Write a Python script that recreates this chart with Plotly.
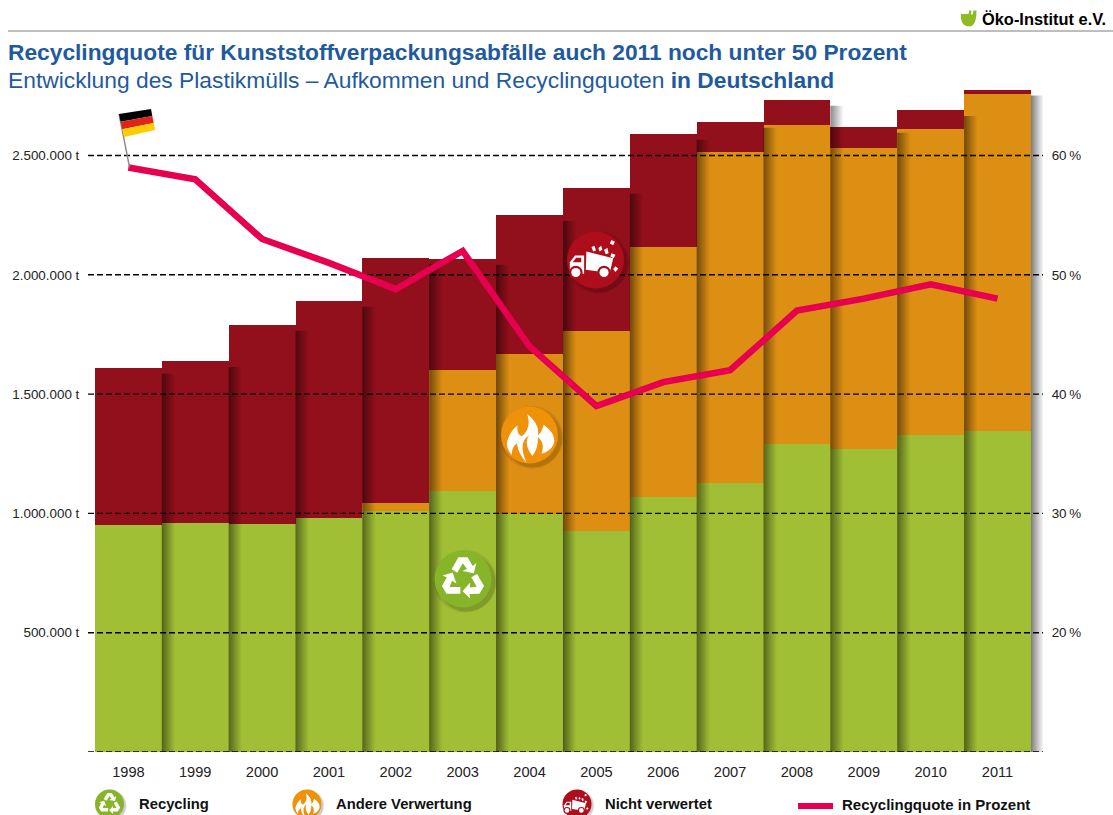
import math
import plotly.graph_objects as go

years = [1998, 1999, 2000, 2001, 2002, 2003, 2004, 2005, 2006, 2007, 2008, 2009, 2010, 2011]
recycling = [951000, 960000, 955000, 980000, 1010000, 1094000, 997000, 926000, 1068000, 1127000, 1291000, 1270000, 1328000, 1345000]
andere = [0, 0, 0, 0, 33000, 506000, 671000, 838000, 1048000, 1387000, 1337000, 1261000, 1283000, 1412000]
nicht = [658000, 678000, 835000, 910000, 1027000, 466000, 582000, 600000, 474000, 126000, 104000, 88000, 79000, 18000]
quote = [59, 58, 53, 51, 48.8, 52, 44, 39, 41, 42, 47, 48, 49.2, 48]
left_ticks = [500000, 1000000, 1500000, 2000000, 2500000]
left_labels = ["500.000 t", "1.000.000 t", "1.500.000 t", "2.000.000 t", "2.500.000 t"]
right_ticks = [20, 30, 40, 50, 60]
right_labels = ["20\u2009%", "30\u2009%", "40\u2009%", "50\u2009%", "60\u2009%"]
grid_levels = [0] + left_ticks

GREEN, ORANGE, RED, PINK = "#A0BF35", "#DD8F14", "#92101C", "#E6004F"
BLUE = "#1F5A9E"
FONT = "Liberation Sans"

L, R, T, B = 88, 1043, 88, 752
W, H = R - L, B - T
XR = [1997.396, 2011.68]
px_per_year = W / (XR[1] - XR[0])


def P(x, y):
    return (x - L) / W, (B - y) / H


def path_from(cmds, cx, cy, r, rot=0.0):
    out = []
    c, s = math.cos(rot), math.sin(rot)
    for cmd in cmds:
        letter, pts = cmd[0], cmd[1:]
        part = [letter]
        for (u, v) in pts:
            a, b = P(cx + r * (u * c - v * s), cy + r * (u * s + v * c))
            part.append(f"{a:.5f},{b:.5f}")
        out.append(" ".join(part))
    return " ".join(out) + " Z"


def poly(points):
    return [("M", points[0])] + [("L", p) for p in points[1:]]


def shape_path(cmds, cx, cy, r, color, rot=0.0):
    return dict(type="path", xref="paper", yref="paper", layer="above",
                path=path_from(cmds, cx, cy, r, rot), fillcolor=color, line=dict(width=0))


def circle(cx, cy, r, color):
    x0, y0 = P(cx - r, cy + r)
    x1, y1 = P(cx + r, cy - r)
    return dict(type="circle", xref="paper", yref="paper", layer="above",
                x0=x0, x1=x1, y0=y0, y1=y1, fillcolor=color, line=dict(width=0))


ARROW = poly([(-0.40, -0.34), (-0.16, -0.76), (0.16, -0.76), (0.34, -0.46), (0.47, -0.56),
              (0.38, -0.20), (-0.02, -0.28), (0.14, -0.36), (-0.01, -0.55), (-0.20, -0.22)])
FLAME = [("M", (-0.80, 0.30)), ("Q", (-0.72, -0.10), (-0.42, -0.34)), ("Q", (-0.46, -0.02), (-0.26, 0.04)),
         ("Q", (0.08, -0.25), (-0.08, -0.74)), ("Q", (0.36, -0.40), (0.30, 0.02)), ("Q", (0.44, -0.12), (0.50, -0.36)),
         ("Q", (0.98, 0.00), (0.84, 0.34)), ("Q", (0.72, 0.58), (0.42, 0.66)), ("Q", (0.56, 0.30), (0.30, 0.08)),
         ("Q", (0.30, 0.50), (0.10, 0.74)), ("Q", (-0.22, 0.30), (-0.02, 0.02)), ("Q", (-0.42, 0.26), (-0.10, 0.98)),
         ("Q", (-0.40, 0.66), (-0.44, 0.30)), ("Q", (-0.62, 0.40), (-0.62, 0.70)), ("Q", (-0.80, 0.50), (-0.80, 0.30))]
TRUCK = [
    poly([(-0.90, 0.48), (-0.90, 0.08), (-0.72, -0.16), (-0.40, -0.16), (-0.40, 0.48)]),
    poly([(-0.32, -0.30), (0.62, -0.06), (0.50, 0.46), (-0.34, 0.34)]),
    poly([(0.10, -0.42), (0.20, -0.50), (0.24, -0.36), (0.14, -0.30)]),
    poly([(0.30, -0.36), (0.42, -0.42), (0.46, -0.24), (0.36, -0.20)]),
    poly([(0.56, -0.70), (0.68, -0.64), (0.62, -0.52), (0.50, -0.58)]),
    poly([(0.56, -0.24), (0.70, -0.18), (0.64, -0.06), (0.52, -0.12)]),
    poly([(0.70, 0.22), (0.80, 0.30), (0.70, 0.42), (0.62, 0.32)]),
    poly([(-0.14, -0.46), (-0.04, -0.50), (0.02, -0.34), (-0.08, -0.30)]),
]
CAB_WINDOW = poly([(-0.80, 0.08), (-0.68, -0.08), (-0.50, -0.08), (-0.50, 0.08)])
LEAF = [("M", (-0.95, -0.55)), ("Q", (-1.05, 1.0), (0.15, 1.0)), ("Q", (1.0, 0.9), (1.0, -1.0)), ("L", (0.62, -1.0)),
        ("L", (0.52, -0.5)), ("L", (0.30, -0.5)), ("L", (0.36, -1.0)), ("L", (0.10, -1.0)), ("L", (0.0, -0.55)),
        ("L", (-0.95, -0.55))]


def disc(cx, cy, r, color):
    return [circle(cx + r * 0.08, cy + r * 0.08, r * 1.10, "rgba(0,0,0,0.08)"),
            circle(cx + r * 0.12, cy + r * 0.12, r * 1.02, "rgba(0,0,0,0.12)"),
            circle(cx, cy, r, color)]


def recycle_icon(cx, cy, r):
    return disc(cx, cy, r, "#87B52A") + [shape_path(ARROW, cx, cy, r, "white", rot=2 * math.pi * k / 3) for k in range(3)]


def flame_icon(cx, cy, r):
    return disc(cx, cy, r, "#EF9109") + [shape_path(FLAME, cx, cy, r, "white")]


def truck_icon(cx, cy, r):
    out = disc(cx, cy, r, "#AE0D1C")
    out += [shape_path(p, cx, cy, r, "white") for p in TRUCK]
    out.append(shape_path(CAB_WINDOW, cx, cy, r, "#AE0D1C"))
    for u in (-0.69, 0.30):
        out.append(circle(cx + r * u, cy + r * 0.44, r * 0.24, "#AE0D1C"))
        out.append(circle(cx + r * u, cy + r * 0.44, r * 0.16, "white"))
    return out


fig = go.Figure()
fig.add_bar(x=years, y=recycling, name="Recycling", marker=dict(color=GREEN, line=dict(width=0)))
fig.add_bar(x=years, y=andere, name="Andere Verwertung", marker=dict(color=ORANGE, line=dict(width=0)))
fig.add_bar(x=years, y=nicht, name="Nicht verwertet", marker=dict(color=RED, line=dict(width=0)))

# soft cast shadow right of each column, derived from the column totals
totals = [a + b + c for a, b, c in zip(recycling, andere, nicht)]
STEPS = 13
for k in range(STEPS):
    alpha = 0.50 * (1 - k / STEPS) ** 1.15
    xs, ys = [], []
    for yr, tot in zip(years, totals):
        x0 = yr + 0.5 + k * 1.0 / px_per_year
        x1 = yr + 0.5 + (k + 1) * 1.0 / px_per_year
        top = tot - 24000
        xs += [x0, x1, x1, x0, x0, None]
        ys += [0, 0, top, top, 0, None]
    fig.add_scatter(x=xs, y=ys, mode="none", fill="toself", fillcolor=f"rgba(0,0,0,{alpha:.3f})",
                    showlegend=False, hoverinfo="skip")

for lvl in grid_levels:
    fig.add_scatter(x=XR, y=[lvl, lvl], mode="lines", line=dict(color="black", width=1.4, dash="6px,3px"),
                    cliponaxis=False, showlegend=False, hoverinfo="skip")

fig.add_scatter(x=years, y=quote, yaxis="y2", mode="lines", name="Recyclingquote in Prozent",
                line=dict(color=PINK, width=6.5))

shapes = []
# header rule
x0, y0 = P(8, 31)
x1, y1 = P(1113, 31)
shapes.append(dict(type="line", xref="paper", yref="paper", x0=x0, x1=x1, y0=y0, y1=y1,
                   line=dict(color="#A8A8A8", width=1.6)))
# logo leaf
shapes.append(shape_path(LEAF, 968.5, 18.5, 8, "#8DBB25"))
# flag
shapes.append(dict(type="line", xref="paper", yref="paper", layer="above",
                   x0=P(119, 114)[0], y0=P(119, 114)[1], x1=P(129.5, 167)[0], y1=P(129.5, 167)[1],
                   line=dict(color="#8A8A8A", width=1.4)))
TL, TR, BR, BL = (119, 114), (151, 109), (155, 130), (124, 137)
for n, col in enumerate(["#000000", "#E2231A", "#FFCC00"]):
    a, b = n / 3, (n + 1) / 3
    lerp = lambda p, q, t: (p[0] + (q[0] - p[0]) * t, p[1] + (q[1] - p[1]) * t)
    shapes.append(shape_path(poly([lerp(TL, BL, a), lerp(TR, BR, a), lerp(TR, BR, b), lerp(TL, BL, b)]),
                             0, 0, 1, col))
# icons
shapes += recycle_icon(463, 579, 28.5) + flame_icon(529.5, 435, 28.5) + truck_icon(595.5, 260, 28.5)
shapes += recycle_icon(109.5, 804, 14.5) + flame_icon(307, 804, 14.5) + truck_icon(577, 804, 14.5)
# legend swatch
a0, b0 = P(798, 809)
a1, b1 = P(833, 803)
shapes.append(dict(type="rect", xref="paper", yref="paper", x0=a0, x1=a1, y0=b0, y1=b1,
                   fillcolor=PINK, line=dict(width=0)))


def text(x, y, s, size, color="#111111", anchor="left"):
    a, b = P(x - 2, y)
    return dict(x=a, y=b, xref="paper", yref="paper", text=s, showarrow=False, xanchor=anchor, yanchor="middle",
                font=dict(family=FONT, size=size, color=color))


annotations = [
    text(8, 52.5, "<b>Recyclingquote für Kunststoffverpackungsabfälle auch 2011 noch unter 50 Prozent</b>", 22.75, BLUE),
    text(8, 80.5, "Entwicklung des Plastikmülls – Aufkommen und Recyclingquoten <b>in Deutschland</b>", 22.8, BLUE),
    text(981.5, 19.5, "<b>Öko-Institut e.V.</b>", 16.4, "#000000"),
    text(139, 804, "<b>Recycling</b>", 14.8),
    text(336, 804, "<b>Andere Verwertung</b>", 14.8),
    text(605, 804, "<b>Nicht verwertet</b>", 14.8),
    text(842, 804, "<b>Recyclingquote in Prozent</b>", 15),
]

fig.update_layout(
    width=1113, height=815, autosize=False,
    margin=dict(l=L, r=1113 - R, t=T, b=815 - B, pad=0),
    paper_bgcolor="white", plot_bgcolor="rgba(0,0,0,0)",
    barmode="stack", bargap=0, showlegend=False,
    font=dict(family=FONT, size=13.5, color="#222222"),
    xaxis=dict(range=XR, tickvals=years, ticktext=[str(y) for y in years], showgrid=False, zeroline=False,
               showline=False, ticks="outside", ticklen=6, tickcolor="rgba(0,0,0,0)", tickfont=dict(size=14.6)),
    yaxis=dict(range=[0, H / 119.3 * 500000], tickvals=left_ticks, ticktext=left_labels, showgrid=False,
               zeroline=False, showline=False, ticks="outside", ticklen=5, tickcolor="rgba(0,0,0,0)",
               tickfont=dict(size=13.4)),
    yaxis2=dict(range=[10, 10 + H / 119.3 * 10], overlaying="y", side="right", tickvals=right_ticks,
                ticktext=right_labels, showgrid=False, zeroline=False, showline=False, ticks="outside", ticklen=5,
                tickcolor="rgba(0,0,0,0)", tickfont=dict(size=13.4)),
    shapes=shapes, annotations=annotations,
)

fig.write_html("out.html", config=dict(displayModeBar=False),
               post_script="document.body.style.margin='0';document.body.style.overflow='hidden';")
